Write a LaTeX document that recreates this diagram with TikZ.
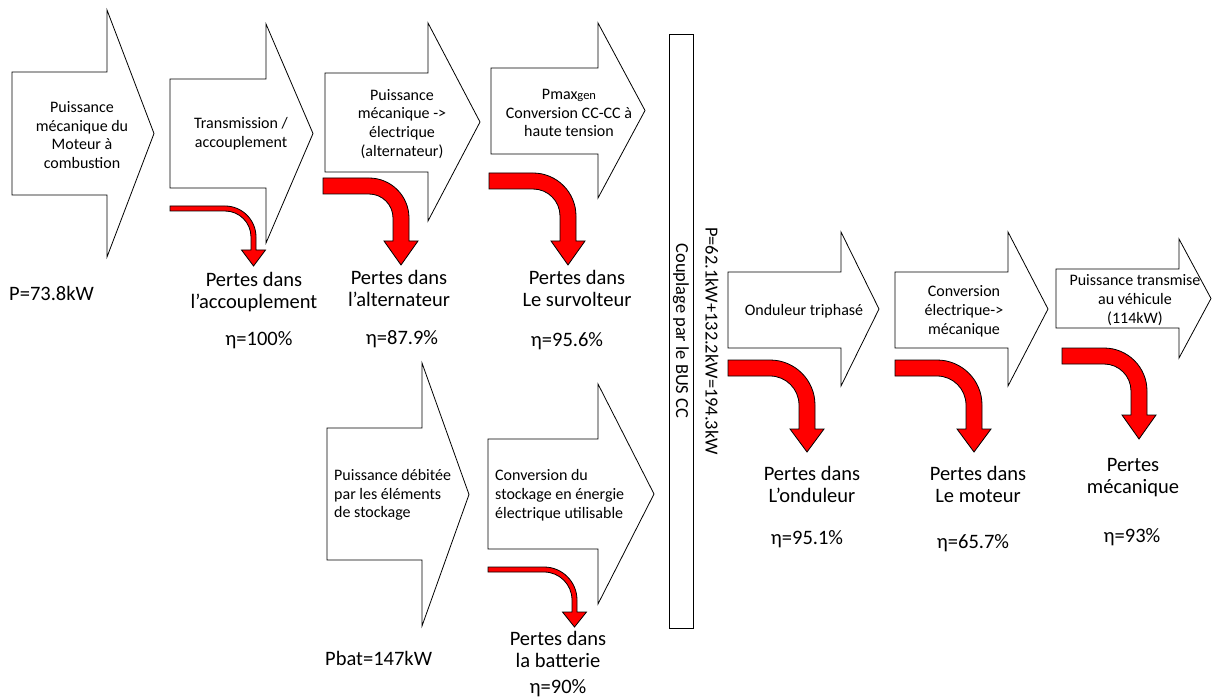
\documentclass[tikz,border=0pt]{standalone}
\usepackage{fontspec}
\setmainfont{Carlito}
\begin{document}
% block arrow: left x, body top, body bottom, neck x, head top, head bottom, tip x
\newcommand\flowarrow[7]{%
  \draw[flow] (#1,#2) -- (#4,#2) -- (#4,#5) -- (#7,{(#5+#6)/2}) -- (#4,#6)
    -- (#4,#3) -- (#1,#3) -- cycle;}
% bent loss arrow: start x, top y, thickness, outer x, bend radius, head base y, tip y, head half width
\newcommand\lossarrow[8]{%
  \draw[loss] (#1,#2) -- ({#4-#5},#2)
    .. controls ({#4-#5+0.5523*#5},#2) and (#4,{#2+0.4477*#5}) .. (#4,{#2+#5})
    -- (#4,#6) -- ({#4-#3/2+#8},#6) -- ({#4-#3/2},#7) -- ({#4-#3/2-#8},#6)
    -- ({#4-#3},#6) -- ({#4-#3},{#2+#5})
    .. controls ({#4-#3},{#2+#5-0.5523*(#5-#3)}) and ({#4-#5+0.5523*(#5-#3)},{#2+#3}) .. ({#4-#5},{#2+#3})
    -- (#1,{#2+#3}) -- cycle;}
\begin{tikzpicture}[x=1pt,y=-1pt,
  flow/.style={draw=black,fill=white,line width=0.8pt,line join=miter},
  loss/.style={draw=black,fill=red,line width=0.8pt,line join=miter},
  intext/.style={font=\fontsize{16}{18.8}\selectfont,align=center,inner sep=0pt},
  lefttext/.style={font=\fontsize{16}{18.8}\selectfont,align=left,inner sep=0pt,anchor=west},
  lbl/.style={font=\fontsize{20.5}{22}\selectfont,align=center,inner sep=0pt},
  buslbl/.style={font=\fontsize{18.4}{20}\selectfont,inner sep=0pt,rotate=-90}]
\useasboundingbox (0,0) rectangle (1214,700);

% main power chain (top row)
\flowarrow{12}{72}{195}{107}{10}{257}{154}
\flowarrow{170}{79}{188}{266}{24}{243}{313}
\flowarrow{325}{73}{172}{428}{23}{221}{480}
\flowarrow{491}{68}{154}{598}{23}{198}{645}
% storage branch
\flowarrow{327}{428}{560}{422}{363}{626}{469}
\flowarrow{488}{439}{549}{598}{384}{604}{654}
% traction chain
\flowarrow{728}{272}{348}{841}{232}{386}{879}
\flowarrow{895}{272}{348}{1008}{232}{386}{1048}
\flowarrow{1056}{269}{328}{1179}{239}{358}{1211}

% DC bus
\node[draw,line width=0.8pt,fill=white,minimum width=24pt,minimum height=594pt,inner sep=0pt] (bus) at (681,331) {};
\node[buslbl] (buslabel) at (bus.center) {Couplage par le BUS CC};
\node[buslbl] (bussum) at (712,341) {P=62.1kW+132.2kW=194.3kW};

% losses
\lossarrow{170}{206}{5}{256}{31}{250}{266}{12}
\lossarrow{323}{178}{16}{409}{40}{241}{265}{17}
\lossarrow{489}{173}{16}{576}{43}{241}{265}{17}
\lossarrow{488}{567}{5}{577}{33}{612}{627}{12}
\lossarrow{728}{360}{16}{815}{45}{429}{452}{17}
\lossarrow{895}{360}{16}{982}{45}{429}{452}{17}
\lossarrow{1062}{348}{16}{1147}{43}{415}{439}{17}

% labels inside the arrows
\node[intext] (t1) at (82,135) {Puissance\\mécanique du\\Moteur à\\combustion};
\node[intext] (t2) at (241,134) {Transmission /\\accouplement};
\node[intext] (t3) at (402,124) {Puissance\\mécanique ->\\électrique\\(alternateur)};
\node[intext] (t4) at (569,113) {Pmax{\fontsize{12.5}{14}\selectfont gen}\\Conversion CC-CC à\\haute tension};
\node[lefttext] (t8) at (334,495) {Puissance débitée\\par les éléments\\de stockage};
\node[lefttext] (t9) at (495,495) {Conversion du\\stockage en énergie\\électrique utilisable};
\node[intext] (t5) at (804,311) {Onduleur triphasé};
\node[intext] (t6) at (964,311) {Conversion\\électrique->\\mécanique};
\node[intext] (t7) at (1135,300) {Puissance transmise\\au véhicule\\(114kW)};

% powers
\node[lbl,anchor=west] (p1) at (9,293) {P=73.8kW};
\node[lbl,anchor=west] (pbat) at (325,658) {Pbat=147kW};

% loss labels and efficiencies
\node[lbl] (l1) at (254,292) {Pertes dans\\l’accouplement};
\node[lbl] (e1) at (259,340) {η=100\%};
\node[lbl] (l2) at (399,288) {Pertes dans\\l’alternateur};
\node[lbl] (e2) at (402,339) {η=87.9\%};
\node[lbl] (l3) at (577,288) {Pertes dans\\Le survolteur};
\node[lbl] (e3) at (567,341) {η=95.6\%};
\node[lbl] (l4) at (558,649) {Pertes dans\\la batterie};
\node[lbl] (e4) at (558,688) {η=90\%};
\node[lbl] (l5) at (812,484) {Pertes dans\\L’onduleur};
\node[lbl] (e5) at (807,539) {η=95.1\%};
\node[lbl] (l6) at (978,484) {Pertes dans\\Le moteur};
\node[lbl] (e6) at (973,543) {η=65.7\%};
\node[lbl] (l7) at (1133,478) {Pertes\\mécanique};
\node[lbl] (e7) at (1132,537) {η=93\%};
\end{tikzpicture}
\end{document}
